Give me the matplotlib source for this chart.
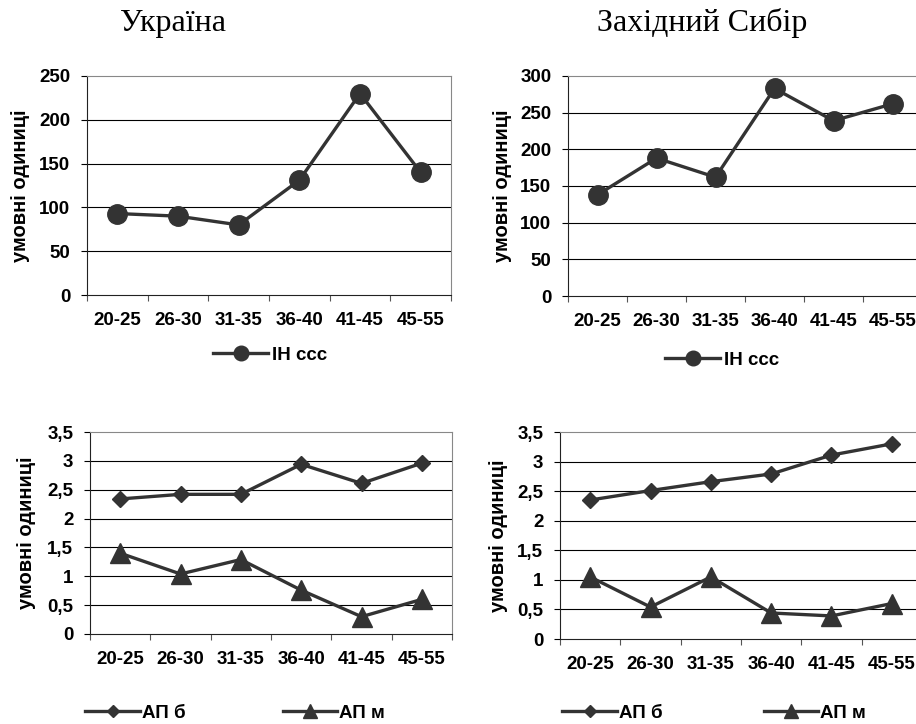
import matplotlib
matplotlib.use('Agg')
from matplotlib import pyplot as plt

plt.rcParams['font.family'] = ['Liberation Sans', 'DejaVu Sans']
plt.rcParams['font.weight'] = 'bold'
plt.rcParams['font.size'] = 13.5

ages = ['20-25', '26-30', '31-35', '36-40', '41-45', '45-55']

# ІН ссс
ukr_in = [93, 90, 80, 131, 230, 140]
sib_in = [138, 188, 162, 283, 239, 262]
# АП б / АП м
ukr_ap_b = [2.34, 2.42, 2.42, 2.94, 2.61, 2.96]
ukr_ap_m = [1.40, 1.04, 1.29, 0.76, 0.30, 0.60]
sib_ap_b = [2.35, 2.51, 2.66, 2.79, 3.11, 3.30]
sib_ap_m = [1.05, 0.54, 1.05, 0.44, 0.39, 0.60]

top_ticks_ukr = [0, 50, 100, 150, 200, 250]
top_ticks_sib = [0, 50, 100, 150, 200, 250, 300]
low_ticks = [0, 0.5, 1, 1.5, 2, 2.5, 3, 3.5]
low_labels = ['0', '0,5', '1', '1,5', '2', '2,5', '3', '3,5']

W, H = 916, 724
col = '#333333'

fig = plt.figure(figsize=(W / 100, H / 100), dpi=100)


def box(l, t, r, b):
    # піксельні координати -> частки фігури
    return [l / W, 1 - b / H, (r - l) / W, (b - t) / H]


def setup(ax, ticks, labels, ylab_x):
    ax.set_xlim(0, 6)
    ax.set_ylim(ticks[0], ticks[-1])
    ax.set_xticks(range(7))
    ax.set_xticklabels([])
    ax.set_xticks([i + 0.5 for i in range(6)], minor=True)
    ax.set_xticklabels(ages, minor=True, fontweight='bold')
    ax.tick_params(axis='x', which='major', length=4, direction='out', color='#555555')
    ax.tick_params(axis='x', which='minor', length=0, pad=12)
    ax.set_yticks(ticks)
    ax.set_yticklabels(labels, fontweight='bold')
    ax.tick_params(axis='y', length=4, direction='out', pad=8)
    for v in ticks[1:-1]:
        ax.axhline(v, color='black', lw=0.8, zorder=1)
    ax.spines['top'].set_color('#888888')
    ax.spines['right'].set_color('#888888')
    ax.spines['left'].set_color('#222222')
    ax.spines['bottom'].set_color('#222222')
    ax.set_ylabel('умовні одиниці', va='center', fontweight='bold', fontsize=14.5)
    ax.yaxis.set_label_coords(ylab_x, 0.5)


def legend(ax, cx, cy, **kw):
    leg = ax.legend(loc='center', bbox_to_anchor=(cx / W, 1 - cy / H), bbox_transform=fig.transFigure,
                    frameon=False, handlelength=2.9, **kw)
    for t in leg.get_texts():
        t.set_fontweight('bold')


x = [i + 0.5 for i in range(6)]

ax1 = fig.add_axes(box(87, 76, 451, 295))
ax1.plot(x, ukr_in, '-o', color=col, lw=2.4, ms=14, label='ІН ссс', zorder=3, clip_on=False)
setup(ax1, top_ticks_ukr, [str(t) for t in top_ticks_ukr], -0.184)
legend(ax1, 270, 355, handletextpad=0.2, markerscale=0.75)

ax2 = fig.add_axes(box(568, 76, 922, 296))
ax2.plot(x, sib_in, '-o', color=col, lw=2.4, ms=14, label='ІН ссс', zorder=3, clip_on=False)
setup(ax2, top_ticks_sib, [str(t) for t in top_ticks_sib], -0.186)
legend(ax2, 722, 360, handletextpad=0.2, markerscale=0.75)

ax3 = fig.add_axes(box(90, 432, 452, 634))
ax3.plot(x, ukr_ap_b, '-D', color=col, lw=2.4, ms=8.5, label='АП б', zorder=3, clip_on=False)
ax3.plot(x, ukr_ap_m, '-^', color=col, lw=2.4, ms=14, label='АП м', zorder=3, clip_on=False)
setup(ax3, low_ticks, low_labels, -0.175)
legend(ax3, 235, 713, ncol=2, handletextpad=0.1, columnspacing=5.2, markerscale=0.7)

ax4 = fig.add_axes(box(560, 432, 922, 639))
ax4.plot(x, sib_ap_b, '-D', color=col, lw=2.4, ms=8.5, label='АП б', zorder=3, clip_on=False)
ax4.plot(x, sib_ap_m, '-^', color=col, lw=2.4, ms=14, label='АП м', zorder=3, clip_on=False)
setup(ax4, low_ticks, low_labels, -0.171)
legend(ax4, 714, 713, ncol=2, handletextpad=0.1, columnspacing=5.4, markerscale=0.7)

fig.text(173 / W, 1 - 31 / H, 'Україна', ha='center', va='baseline',
         family=['Liberation Serif', 'DejaVu Serif'], fontweight='normal', fontsize=23)
fig.text(702 / W, 1 - 31 / H, 'Західний Сибір', ha='center', va='baseline',
         family=['Liberation Serif', 'DejaVu Serif'], fontweight='normal', fontsize=23)

fig.savefig('out.png', dpi=100)
